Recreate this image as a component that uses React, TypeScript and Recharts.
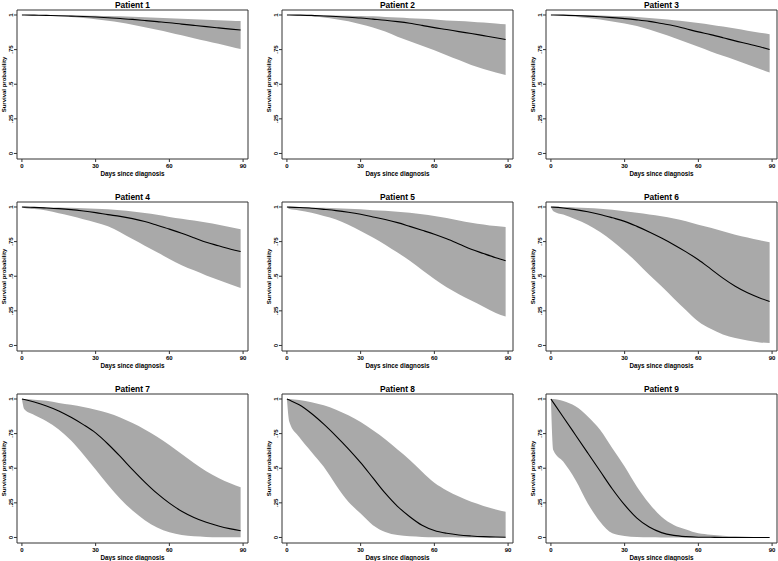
import React from 'react';
import { ComposedChart, Area, Line, XAxis, YAxis, ReferenceArea, Label } from 'recharts';

// days at which the predicted curves were read
const DAYS = [0, 1, 5, 10, 15, 20, 25, 30, 35, 40, 45, 50, 55, 60, 65, 70, 75, 80, 85, 89];

const P1_S = [1, 1, 0.999, 0.997, 0.995, 0.992, 0.989, 0.985, 0.98, 0.975, 0.968, 0.96, 0.952, 0.944, 0.934, 0.925, 0.916, 0.907, 0.898, 0.892];
const P1_HI = [1, 1, 1, 0.999, 0.998, 0.997, 0.996, 0.994, 0.992, 0.99, 0.987, 0.984, 0.98, 0.977, 0.973, 0.969, 0.966, 0.962, 0.959, 0.957];
const P1_LO = [1, 0.999, 0.997, 0.994, 0.99, 0.985, 0.978, 0.97, 0.958, 0.945, 0.93, 0.912, 0.893, 0.873, 0.853, 0.832, 0.812, 0.792, 0.771, 0.754];

const P2_S = [1, 1, 0.999, 0.997, 0.993, 0.989, 0.984, 0.978, 0.97, 0.962, 0.952, 0.94, 0.925, 0.909, 0.895, 0.88, 0.866, 0.851, 0.836, 0.823];
const P2_HI = [1, 1, 1, 0.999, 0.998, 0.997, 0.995, 0.993, 0.99, 0.986, 0.982, 0.977, 0.972, 0.967, 0.961, 0.956, 0.951, 0.945, 0.939, 0.933];
const P2_LO = [1, 0.999, 0.996, 0.99, 0.982, 0.97, 0.955, 0.933, 0.91, 0.88, 0.842, 0.81, 0.778, 0.746, 0.71, 0.675, 0.639, 0.61, 0.585, 0.567];

const P3_S = [1, 1, 0.999, 0.996, 0.992, 0.987, 0.981, 0.974, 0.965, 0.954, 0.938, 0.922, 0.9, 0.878, 0.858, 0.836, 0.813, 0.792, 0.77, 0.751];
const P3_HI = [1, 1, 1, 0.999, 0.998, 0.996, 0.993, 0.99, 0.985, 0.979, 0.971, 0.962, 0.953, 0.943, 0.93, 0.916, 0.902, 0.887, 0.872, 0.861];
const P3_LO = [1, 0.999, 0.995, 0.988, 0.978, 0.967, 0.953, 0.938, 0.92, 0.895, 0.866, 0.835, 0.803, 0.77, 0.737, 0.705, 0.675, 0.643, 0.61, 0.584];

const P4_S = [1, 0.999, 0.997, 0.993, 0.988, 0.981, 0.971, 0.959, 0.945, 0.932, 0.916, 0.895, 0.868, 0.84, 0.81, 0.778, 0.745, 0.72, 0.695, 0.678];
const P4_HI = [1, 1, 0.999, 0.998, 0.996, 0.994, 0.991, 0.988, 0.983, 0.976, 0.967, 0.957, 0.944, 0.928, 0.915, 0.902, 0.888, 0.872, 0.854, 0.84];
const P4_LO = [1, 0.993, 0.985, 0.975, 0.955, 0.935, 0.912, 0.888, 0.86, 0.818, 0.768, 0.72, 0.673, 0.625, 0.58, 0.543, 0.506, 0.473, 0.44, 0.415];

const P5_S = [1, 0.999, 0.996, 0.991, 0.983, 0.974, 0.962, 0.947, 0.928, 0.909, 0.887, 0.86, 0.832, 0.803, 0.77, 0.733, 0.695, 0.664, 0.634, 0.612];
const P5_HI = [1, 1, 0.999, 0.997, 0.994, 0.991, 0.987, 0.983, 0.977, 0.972, 0.966, 0.958, 0.947, 0.935, 0.92, 0.903, 0.887, 0.874, 0.862, 0.856];
const P5_LO = [1, 0.985, 0.975, 0.958, 0.935, 0.91, 0.872, 0.827, 0.78, 0.728, 0.671, 0.612, 0.545, 0.48, 0.42, 0.37, 0.324, 0.28, 0.235, 0.209];

const P6_S = [1, 0.999, 0.993, 0.981, 0.965, 0.946, 0.922, 0.896, 0.86, 0.82, 0.776, 0.728, 0.676, 0.619, 0.553, 0.486, 0.427, 0.38, 0.343, 0.318];
const P6_HI = [1, 1, 0.999, 0.997, 0.993, 0.988, 0.98, 0.969, 0.958, 0.946, 0.933, 0.917, 0.897, 0.872, 0.85, 0.825, 0.8, 0.78, 0.76, 0.745];
const P6_LO = [1, 0.97, 0.945, 0.912, 0.872, 0.82, 0.755, 0.68, 0.6, 0.51, 0.427, 0.34, 0.255, 0.173, 0.12, 0.08, 0.053, 0.035, 0.022, 0.017];

const P7_S = [1, 0.996, 0.978, 0.95, 0.914, 0.868, 0.815, 0.755, 0.675, 0.585, 0.49, 0.4, 0.318, 0.248, 0.19, 0.145, 0.11, 0.083, 0.062, 0.048];
const P7_HI = [1, 1, 0.995, 0.987, 0.971, 0.958, 0.942, 0.923, 0.898, 0.866, 0.826, 0.78, 0.728, 0.668, 0.602, 0.538, 0.478, 0.43, 0.39, 0.362];
const P7_LO = [1, 0.925, 0.885, 0.84, 0.78, 0.7, 0.6, 0.49, 0.38, 0.28, 0.195, 0.125, 0.072, 0.038, 0.018, 0.008, 0.004, 0.002, 0.001, 0.001];

const P8_S = [1, 0.992, 0.958, 0.895, 0.818, 0.732, 0.64, 0.54, 0.43, 0.32, 0.225, 0.15, 0.088, 0.05, 0.03, 0.018, 0.011, 0.006, 0.003, 0.002];
const P8_HI = [1, 1, 0.992, 0.977, 0.954, 0.922, 0.882, 0.834, 0.775, 0.71, 0.635, 0.56, 0.475, 0.395, 0.34, 0.295, 0.257, 0.228, 0.202, 0.185];
const P8_LO = [1, 0.834, 0.726, 0.618, 0.51, 0.377, 0.257, 0.173, 0.089, 0.04, 0.017, 0.008, 0.004, 0.002, 0.001, 0, 0, 0, 0, 0];

const P9_S = [1, 0.974, 0.87, 0.74, 0.61, 0.48, 0.35, 0.235, 0.14, 0.075, 0.035, 0.015, 0.006, 0.002, 0.001, 0, 0, 0, 0, 0];
const P9_HI = [1, 1, 0.985, 0.947, 0.874, 0.778, 0.645, 0.512, 0.367, 0.246, 0.15, 0.09, 0.058, 0.03, 0.02, 0.013, 0.008, 0.005, 0.003, 0.002];
const P9_LO = [1, 0.63, 0.548, 0.415, 0.246, 0.114, 0.03, 0.01, 0.003, 0.001, 0, 0, 0, 0, 0, 0, 0, 0, 0, 0];

const PATIENTS = [
  { name: 'Patient 1', s: P1_S, lo: P1_LO, hi: P1_HI },
  { name: 'Patient 2', s: P2_S, lo: P2_LO, hi: P2_HI },
  { name: 'Patient 3', s: P3_S, lo: P3_LO, hi: P3_HI },
  { name: 'Patient 4', s: P4_S, lo: P4_LO, hi: P4_HI },
  { name: 'Patient 5', s: P5_S, lo: P5_LO, hi: P5_HI },
  { name: 'Patient 6', s: P6_S, lo: P6_LO, hi: P6_HI },
  { name: 'Patient 7', s: P7_S, lo: P7_LO, hi: P7_HI },
  { name: 'Patient 8', s: P8_S, lo: P8_LO, hi: P8_HI },
  { name: 'Patient 9', s: P9_S, lo: P9_LO, hi: P9_HI },
];

const X_TICKS = [0, 30, 60, 90];
const Y_TICKS = [0, 0.25, 0.5, 0.75, 1];
const Y_TICK_LABELS = ['0', '.25', '.5', '.75', '1'];

const FONT = '"Liberation Sans", Arial, sans-serif';
const PLOT_W = 231;
const PLOT_H = 149;
const Y_AXIS_W = 17;
const X_AXIS_H = 28;
const TOP = 10;

const YTick = (props: any) => {
  const { x, y, payload } = props;
  const i = Y_TICKS.indexOf(payload.value);
  return (
    <text x={x - 0.5} y={y} transform={`rotate(-90, ${x - 0.5}, ${y})`} textAnchor="middle" fontSize={6} fontWeight="bold" fontFamily={FONT} fill="#000">
      {Y_TICK_LABELS[i]}
    </text>
  );
};

const YLabel = (props: any) => {
  const vb = props.viewBox;
  const x = vb.x + 6.3;
  const y = vb.y + vb.height / 2;
  return (
    <text x={x} y={y} transform={`rotate(-90, ${x}, ${y})`} textAnchor="middle" fontSize={6} fontWeight="bold" fontFamily={FONT} fill="#000">
      Survival probability
    </text>
  );
};

const XLabel = (props: any) => {
  const vb = props.viewBox;
  return (
    <text x={vb.x + vb.width / 2} y={vb.y + 16.5} textAnchor="middle" fontSize={6.3} fontWeight="bold" fontFamily={FONT} fill="#000">
      Days since diagnosis
    </text>
  );
};

const Panel = ({ p, left, top }: { p: typeof PATIENTS[number]; left: number; top: number }) => {
  const data = DAYS.map((t, i) => ({ t, s: p.s[i], band: [p.lo[i], p.hi[i]] }));
  return (
    <div style={{ position: 'absolute', left, top }}>
      <div
        style={{
          position: 'absolute', left: Y_AXIS_W, top: 0, width: PLOT_W, height: 10,
          lineHeight: '10px', textAlign: 'center', fontFamily: FONT, fontSize: 8.4, fontWeight: 'bold', color: '#000',
        }}
      >
        {p.name}
      </div>
      <ComposedChart
        width={Y_AXIS_W + PLOT_W + 3}
        height={TOP + PLOT_H + X_AXIS_H}
        data={data}
        margin={{ top: TOP, right: 3, bottom: 0, left: 0 }}
      >
        <XAxis
          dataKey="t" type="number" domain={[-2, 92]} ticks={X_TICKS} allowDataOverflow
          axisLine={false} tickLine={{ stroke: '#333' }} tickSize={3} tickMargin={1.5} height={X_AXIS_H}
          tick={{ fontSize: 6, fontWeight: 'bold', fontFamily: FONT, fill: '#000' }} interval={0}
        >
          <Label content={XLabel} />
        </XAxis>
        <YAxis
          type="number" domain={[-0.04, 1.036]} ticks={Y_TICKS} allowDataOverflow width={Y_AXIS_W}
          axisLine={false} tickLine={{ stroke: '#333' }} tickSize={3} tickMargin={0} tick={YTick} interval={0}
        >
          <Label content={YLabel} />
        </YAxis>
        <Area dataKey="band" type="monotone" stroke="none" fill="#a9a9a9" fillOpacity={1} isAnimationActive={false} />
        <Line dataKey="s" type="monotone" stroke="#000" strokeWidth={1.1} dot={false} isAnimationActive={false} />
        <ReferenceArea x1={-2} x2={92} y1={-0.04} y2={1.036} fill="none" stroke="#333" strokeWidth={1} ifOverflow="visible" />
      </ComposedChart>
    </div>
  );
};

export default function App() {
  return (
    <div style={{ position: 'absolute', left: 0, top: 0, width: 778, height: 561, overflow: 'hidden', background: '#fff' }}>
      {PATIENTS.map((p, i) => {
        const col = i % 3;
        const row = Math.floor(i / 3);
        return <Panel key={p.name} p={p} left={Math.round(col * 264.5)} top={row * 192} />;
      })}
    </div>
  );
}
